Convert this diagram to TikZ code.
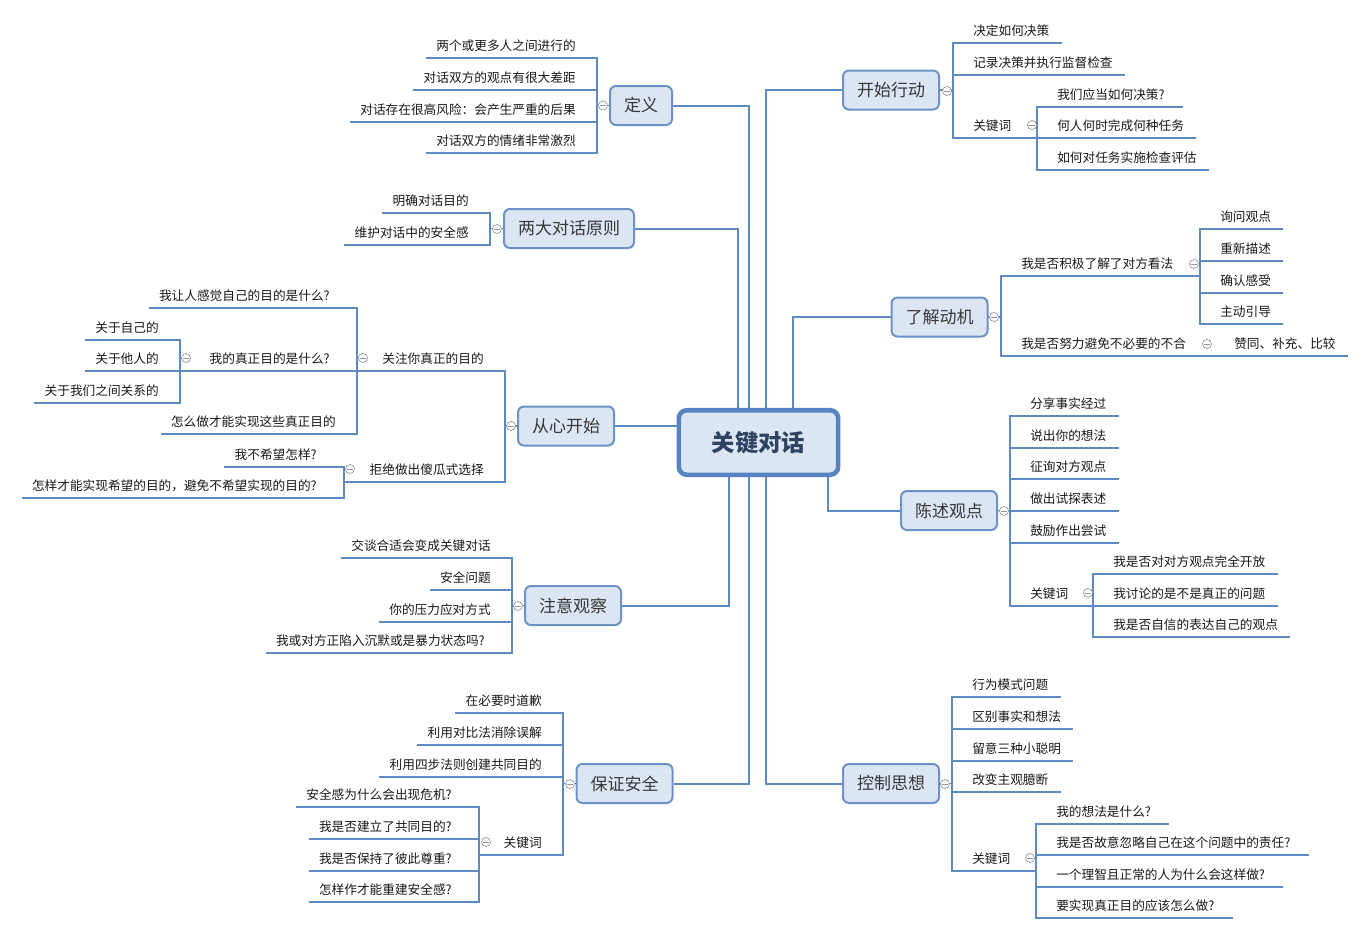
\documentclass[tikz,border=0pt]{standalone}
\usepackage{fontspec}
\setmainfont{Noto Sans CJK SC}
\usetikzlibrary{backgrounds}
\definecolor{lnc}{RGB}{94,138,192}
\definecolor{boxf}{RGB}{220,230,242}
\definecolor{boxd}{RGB}{108,146,198}
\definecolor{ctrd}{RGB}{86,132,194}
\definecolor{txc}{RGB}{25,25,25}
\definecolor{tpc}{RGB}{55,55,55}
\definecolor{ctc}{RGB}{46,66,98}
\definecolor{cgray}{RGB}{150,150,150}
\newcommand\QMk{?\kern4.5pt}
\tikzset{
 sub/.style={font=\fontsize{9.5pt}{11pt}\selectfont, text=txc, inner sep=0pt},
 ul/.style={draw=lnc, line width=1.8pt},
 br/.style={draw=lnc, line width=1.4pt, line cap=rect},
 trunk/.style={draw=lnc, line width=1.5pt},
 topic/.style={draw=boxd, fill=boxf, line width=1.5pt, rounded corners=4.5pt, minimum height=29.25pt, inner xsep=10.5pt, inner ysep=0pt, font=\fontsize{12.75pt}{15pt}\selectfont, text=tpc},
 central/.style={draw=ctrd, fill=boxf, line width=3.4pt, rounded corners=6pt, minimum width=119.5pt, minimum height=48.4pt, font=\fontsize{17.5pt}{20pt}\selectfont\bfseries, text=ctc},
 ctl/.style={circle, draw=cgray, fill=white, line width=0.5pt, minimum size=6.8pt, inner sep=0pt,
   path picture={\draw[cgray, line width=0.5pt] ([xshift=-2pt]path picture bounding box.center) -- ([xshift=2pt]path picture bounding box.center);}},
}
\newcommand\LeftSub[4]{%
  \coordinate (#1u) at (#2,#3);
  \node[sub, anchor=base east] (#1) at (#2-21,#3-8) {#4};
  \path (#1.west |- #1u) ++(-10,0) coordinate (#1e);
  \draw[ul] (#1u) -- (#1e);
}
\newcommand\RightSub[4]{%
  \coordinate (#1u) at (#2,#3);
  \node[sub, anchor=base west] (#1) at (#2+20,#3-8) {#4};
  \path (#1.east |- #1u) ++(12,0) coordinate (#1e);
  \draw[ul] (#1u) -- (#1e);
}
\begin{document}
\begin{tikzpicture}[x=0.75pt, y=-0.75pt]
\useasboundingbox (0,0) rectangle (1366,935);
% main boxes
\node[central] (ctr) at (758.5,442.5) {关键对话};
\node[topic] (def) at (641,105.5) {定义};
\node[topic] (prin) at (569,228.5) {两大对话原则};
\node[topic] (cxk) at (566,426) {从心开始};
\node[topic] (zyg) at (573,605.5) {注意观察};
\node[topic] (bzq) at (624.5,783.5) {保证安全};
\node[topic] (ksd) at (891,90) {开始行动};
\node[topic] (ljd) at (939.5,317) {了解动机};
\node[topic] (csd) at (949,510.5) {陈述观点};
\node[topic] (kzs) at (891,783.5) {控制思想};
\begin{scope}[on background layer]
\fill[white] (0,0) rectangle (1366,935);
\draw[trunk] (def.east) -| ([shift={(-9.5,0)}]ctr.north);
\draw[trunk] (prin.east) -| ([shift={(-20.5,0)}]ctr.north);
\draw[trunk] (ksd.west) -| ([shift={(7.5,0)}]ctr.north);
\draw[trunk] (ljd.west) -| ([shift={(34.5,0)}]ctr.north);
\draw[trunk] (cxk.east) -- (cxk.east -| ctr.west);
\draw[trunk] (zyg.east) -| ([shift={(-29.5,0)}]ctr.south);
\draw[trunk] (bzq.east) -| ([shift={(-9.5,0)}]ctr.south);
\draw[trunk] (kzs.west) -| ([shift={(7.5,0)}]ctr.south);
\draw[trunk] (csd.west) -| ([shift={(69.5,0)}]ctr.south);
\end{scope}
% 定义
\LeftSub{da}{597}{58}{两个或更多人之间进行的}
\LeftSub{db}{597}{90}{对话双方的观点有很大差距}
\LeftSub{dc}{597}{122}{对话存在很高风险：会产生严重的后果}
\LeftSub{dd}{597}{153}{对话双方的情绪非常激烈}
\draw[br] (dau) -- (ddu);
\draw[br] (def.west) -- (dau |- def.west);
% 两大对话原则
\LeftSub{pa}{490}{213}{明确对话目的}
\LeftSub{pb}{490}{245}{维护对话中的安全感}
\draw[br] (pau) -- (pbu);
\draw[br] (prin.west) -- (pau |- prin.west);
% 从心开始
\LeftSub{ca}{505}{371}{关注你真正的目的}
\LeftSub{cb}{505}{482}{拒绝做出傻瓜式选择}
\draw[br] (cau) -- (cbu);
\draw[br] (cxk.west) -- (cau |- cxk.west);
\LeftSub{caa}{357}{308}{我让人感觉自己的目的是什么\QMk}
\LeftSub{cab}{357}{371}{我的真正目的是什么\QMk}
\LeftSub{cac}{357}{434}{怎么做才能实现这些真正目的}
\draw[br] (caau) -- (cacu);
\draw[br] (cae) -- (caau |- cae);
\LeftSub{caba}{180}{340}{关于自己的}
\LeftSub{cabb}{180}{371}{关于他人的}
\LeftSub{cabc}{180}{403}{关于我们之间关系的}
\draw[br] (cabau) -- (cabcu);
\draw[br] (cabe) -- (cabau |- cabe);
\LeftSub{cba}{344}{467}{我不希望怎样\QMk}
\LeftSub{cbb}{344}{498}{怎样才能实现希望的目的，避免不希望实现的目的\QMk}
\draw[br] (cbau) -- (cbbu);
\draw[br] (cbe) -- (cbau |- cbe);
% 注意观察
\LeftSub{za}{512}{558}{交谈合适会变成关键对话}
\LeftSub{zb}{512}{590}{安全问题}
\LeftSub{zc}{512}{622}{你的压力应对方式}
\LeftSub{zd}{512}{653}{我或对方正陷入沉默或是暴力状态吗\QMk}
\draw[br] (zau) -- (zdu);
\draw[br] (zyg.west) -- (zau |- zyg.west);
% 保证安全
\LeftSub{ba}{563}{713}{在必要时道歉}
\LeftSub{bb}{563}{745}{利用对比法消除误解}
\LeftSub{bc}{563}{777}{利用四步法则创建共同目的}
\LeftSub{bd}{563}{855}{关键词}
\draw[br] (bau) -- (bdu);
\draw[br] (bzq.west) -- (bau |- bzq.west);
\LeftSub{bda}{479}{807}{安全感为什么会出现危机\QMk}
\LeftSub{bdb}{479}{839}{我是否建立了共同目的\QMk}
\LeftSub{bdc}{479}{871}{我是否保持了彼此尊重\QMk}
\LeftSub{bdd}{479}{902}{怎样作才能重建安全感\QMk}
\draw[br] (bdau) -- (bddu);
\draw[br] (bde) -- (bdau |- bde);
% 开始行动
\RightSub{ka}{953}{43}{决定如何决策}
\RightSub{kb}{953}{75}{记录决策并执行监督检查}
\RightSub{kc}{953}{138}{关键词}
\draw[br] (kau) -- (kcu);
\draw[br] (ksd.east) -- (kau |- ksd.east);
\RightSub{kca}{1037}{107}{我们应当如何决策\QMk}
\RightSub{kcb}{1037}{138}{何人何时完成何种任务}
\RightSub{kcc}{1037}{170}{如何对任务实施检查评估}
\draw[br] (kcau) -- (kccu);
\draw[br] (kce) -- (kcau |- kce);
% 了解动机
\RightSub{la}{1001}{276}{我是否积极了解了对方看法}
\RightSub{lb}{1001}{356}{我是否努力避免不必要的不合}
\draw[br] (lau) -- (lbu);
\draw[br] (ljd.east) -- (lau |- ljd.east);
\RightSub{laa}{1200}{229}{询问观点}
\RightSub{lab}{1200}{261}{重新描述}
\RightSub{lac}{1200}{293}{确认感受}
\RightSub{lad}{1200}{324}{主动引导}
\draw[br] (laau) -- (ladu);
\draw[br] (lae) -- (laau |- lae);
\RightSub{lba}{1214}{356}{赞同、补充、比较}
\draw[br] (lbe) -- (lbau);
% 陈述观点
\RightSub{sa}{1010}{416}{分享事实经过}
\RightSub{sb}{1010}{448}{说出你的想法}
\RightSub{sc}{1010}{479}{征询对方观点}
\RightSub{sd}{1010}{511}{做出试探表述}
\RightSub{se}{1010}{543}{鼓励作出尝试}
\RightSub{sf}{1010}{606}{关键词}
\draw[br] (sau) -- (sfu);
\draw[br] (csd.east) -- (sau |- csd.east);
\RightSub{sfa}{1093}{574}{我是否对对方观点完全开放}
\RightSub{sfb}{1093}{606}{我讨论的是不是真正的问题}
\RightSub{sfc}{1093}{637}{我是否自信的表达自己的观点}
\draw[br] (sfau) -- (sfcu);
\draw[br] (sfe) -- (sfau |- sfe);
% 控制思想
\RightSub{ta}{952}{697}{行为模式问题}
\RightSub{tb}{952}{729}{区别事实和想法}
\RightSub{tc}{952}{761}{留意三种小聪明}
\RightSub{td}{952}{792}{改变主观臆断}
\RightSub{te}{952}{871}{关键词}
\draw[br] (tau) -- (teu);
\draw[br] (kzs.east) -- (tau |- kzs.east);
\RightSub{tea}{1036}{824}{我的想法是什么\QMk}
\RightSub{teb}{1036}{855}{我是否故意忽略自己在这个问题中的责任\QMk}
\RightSub{tec}{1036}{887}{一个理智且正常的人为什么会这样做\QMk}
\RightSub{ted}{1036}{918}{要实现真正目的应该怎么做\QMk}
\draw[br] (teau) -- (tedu);
\draw[br] (tee) -- (teau |- tee);
% collapse markers
\node[ctl] (m1) at (603,105.5) {};
\node[ctl] (m2) at (497,229) {};
\node[ctl] (m3) at (511,426) {};
\node[ctl] (m4) at (363,358) {};
\node[ctl] (m5) at (186,358) {};
\node[ctl] (m6) at (350,469) {};
\node[ctl] (m7) at (518,606) {};
\node[ctl] (m8) at (570,784) {};
\node[ctl] (m9) at (486,842) {};
\node[ctl] (m10) at (947,91) {};
\node[ctl] (m11) at (1032,125) {};
\node[ctl] (m12) at (994,317) {};
\node[ctl] (m13) at (1194,264) {};
\node[ctl] (m14) at (1207,344) {};
\node[ctl] (m15) at (1004,511) {};
\node[ctl] (m16) at (1088,593) {};
\node[ctl] (m17) at (945,784) {};
\node[ctl] (m18) at (1030,858) {};
\end{tikzpicture}
\end{document}
